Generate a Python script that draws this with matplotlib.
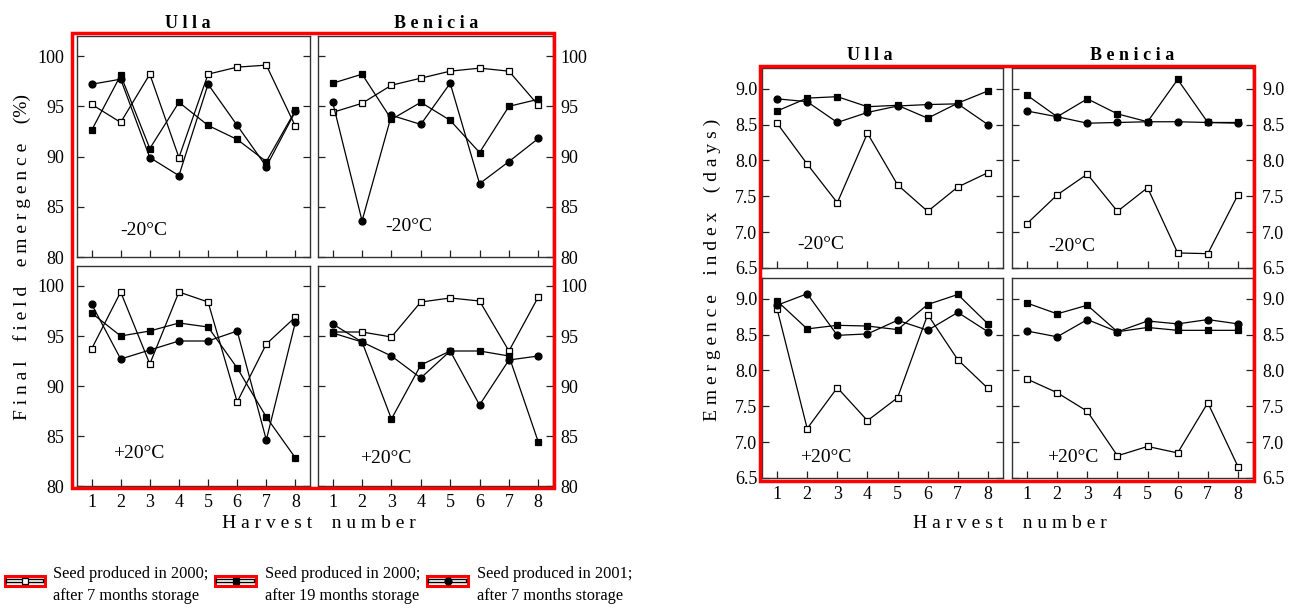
import matplotlib
matplotlib.use("Agg")
import matplotlib.pyplot as plt
from matplotlib.patches import Rectangle
from matplotlib.lines import Line2D

plt.rcParams['font.family'] = ['Liberation Serif', 'DejaVu Serif']

harvest = [1, 2, 3, 4, 5, 6, 7, 8]
series_labels = ["Seed produced in 2000;\nafter 7 months storage",
                 "Seed produced in 2000;\nafter 19 months storage",
                 "Seed produced in 2001;\nafter 7 months storage"]

# Final field emergence (%)
ffe_ulla_m20_open = [95.2, 93.4, 98.2, 89.9, 98.2, 98.9, 99.1, 93.0]
ffe_ulla_m20_fsq = [92.6, 98.1, 90.8, 95.4, 93.1, 91.7, 89.5, 94.6]
ffe_ulla_m20_circ = [97.2, 97.7, 89.9, 88.1, 97.2, 93.1, 89.0, 94.5]
ffe_ben_m20_open = [94.4, 95.3, 97.1, 97.8, 98.5, 98.8, 98.5, 95.1]
ffe_ben_m20_fsq = [97.3, 98.2, 93.7, 95.4, 93.6, 90.4, 95.0, 95.7]
ffe_ben_m20_circ = [95.4, 83.6, 94.1, 93.2, 97.3, 87.3, 89.5, 91.8]
ffe_ulla_p20_open = [93.7, 99.4, 92.2, 99.4, 98.4, 88.4, 94.2, 96.9]
ffe_ulla_p20_fsq = [97.3, 95.0, 95.5, 96.3, 95.9, 91.8, 86.9, 82.8]
ffe_ulla_p20_circ = [98.2, 92.7, 93.6, 94.5, 94.5, 95.5, 84.6, 96.4]
ffe_ben_p20_open = [95.4, 95.4, 94.9, 98.4, 98.8, 98.5, 93.5, 98.9]
ffe_ben_p20_fsq = [95.3, 94.4, 86.7, 92.1, 93.5, 93.5, 93.0, 84.4]
ffe_ben_p20_circ = [96.2, 94.4, 93.0, 90.8, 93.5, 88.1, 92.6, 93.0]

# Emergence index (days)
ei_ulla_m20_open = [8.52, 7.95, 7.41, 8.38, 7.66, 7.29, 7.63, 7.83]
ei_ulla_m20_fsq = [8.69, 8.87, 8.89, 8.75, 8.77, 8.59, 8.80, 8.97]
ei_ulla_m20_circ = [8.86, 8.82, 8.53, 8.67, 8.76, 8.78, 8.79, 8.50]
ei_ben_m20_open = [7.12, 7.52, 7.81, 7.29, 7.62, 6.71, 6.70, 7.52]
ei_ben_m20_fsq = [8.91, 8.61, 8.86, 8.65, 8.54, 9.13, 8.53, 8.53]
ei_ben_m20_circ = [8.69, 8.61, 8.52, 8.53, 8.54, 8.54, 8.53, 8.52]
ei_ulla_p20_open = [8.86, 7.19, 7.76, 7.30, 7.62, 8.78, 8.15, 7.75]
ei_ulla_p20_fsq = [8.97, 8.58, 8.63, 8.62, 8.57, 8.92, 9.06, 8.65]
ei_ulla_p20_circ = [8.91, 9.07, 8.49, 8.51, 8.70, 8.56, 8.81, 8.54]
ei_ben_p20_open = [7.88, 7.69, 7.43, 6.81, 6.94, 6.85, 7.55, 6.66]
ei_ben_p20_fsq = [8.94, 8.79, 8.91, 8.54, 8.60, 8.56, 8.56, 8.56]
ei_ben_p20_circ = [8.55, 8.47, 8.71, 8.54, 8.69, 8.65, 8.71, 8.65]

ffe_ticks = [80, 85, 90, 95, 100]
ei_ticks = [6.5, 7.0, 7.5, 8.0, 8.5, 9.0]
ei_ticklabels = ["6.5", "7.0", "7.5", "8.0", "8.5", "9.0"]

W, H = 1289, 613
fig = plt.figure(figsize=(W / 100, H / 100), dpi=100)

def px_axes(x0, y0, x1, y1):
    return fig.add_axes([x0 / W, 1 - y1 / H, (x1 - x0) / W, (y1 - y0) / H])

def px_rect(x0, y0, x1, y1, lw=2.5):
    fig.patches.append(Rectangle((x0 / W, 1 - y1 / H), (x1 - x0) / W, (y1 - y0) / H,
                                 transform=fig.transFigure, fill=False,
                                 edgecolor='#ff0000', linewidth=lw, zorder=10))

styles = [dict(marker='s', mfc='white', mec='black', ms=4.5, mew=0.9),
          dict(marker='s', mfc='black', mec='black', ms=4.5, mew=0.9),
          dict(marker='o', mfc='black', mec='black', ms=5, mew=0.9)]

FS = 13

def panel(box, data, ylim, yticks, yticklabels, side, ypad, show_x, temp, temp_pos):
    ax = px_axes(*box)
    for vals, st in zip(data, styles):
        ax.plot(harvest, vals, color='black', lw=0.9, clip_on=False, **st)
    ax.set_xlim(0.5, 8.5)
    ax.set_ylim(*ylim)
    ax.set_xticks(harvest)
    ax.set_yticks(yticks)
    ax.set_yticklabels(yticklabels)
    if show_x:
        ax.set_xticklabels([str(h) for h in harvest])
    else:
        ax.set_xticklabels([])
    ax.tick_params(axis='both', direction='in', length=5, width=0.9, color='#222222',
                   labelsize=FS)
    ax.tick_params(axis='y', left=True, right=True, pad=ypad,
                   labelleft=(side == 'left'), labelright=(side == 'right'))
    ax.tick_params(axis='x', top=False, bottom=True, pad=6)
    for sp in ax.spines.values():
        sp.set_color('#333333')
        sp.set_linewidth(1.0)
    ax.text(temp_pos[0], temp_pos[1], temp, transform=ax.transAxes,
            ha='left', va='center', fontsize=14)
    return ax

# Left group: Final field emergence
ffe_lim = (80, 102)
ffe_lbl = [str(t) for t in ffe_ticks]
panel((77, 36, 310, 257), [ffe_ulla_m20_open, ffe_ulla_m20_fsq, ffe_ulla_m20_circ],
      ffe_lim, ffe_ticks, ffe_lbl, 'left', 9, False, "-20°C", (0.185, 0.122))
panel((318, 36, 553, 257), [ffe_ben_m20_open, ffe_ben_m20_fsq, ffe_ben_m20_circ],
      ffe_lim, ffe_ticks, ffe_lbl, 'right', 5, False, "-20°C", (0.285, 0.136))
panel((77, 266, 310, 486), [ffe_ulla_p20_open, ffe_ulla_p20_fsq, ffe_ulla_p20_circ],
      ffe_lim, ffe_ticks, ffe_lbl, 'left', 9, True, "+20°C", (0.155, 0.15))
panel((318, 266, 553, 486), [ffe_ben_p20_open, ffe_ben_p20_fsq, ffe_ben_p20_circ],
      ffe_lim, ffe_ticks, ffe_lbl, 'right', 5, True, "+20°C", (0.179, 0.123))

# Right group: Emergence index
ei_lim = (6.5, 9.29)
panel((762, 68, 1003, 268), [ei_ulla_m20_open, ei_ulla_m20_fsq, ei_ulla_m20_circ],
      ei_lim, ei_ticks, ei_ticklabels, 'left', 3.5, False, "-20°C", (0.145, 0.115))
panel((1012, 68, 1253, 268), [ei_ben_m20_open, ei_ben_m20_fsq, ei_ben_m20_circ],
      ei_lim, ei_ticks, ei_ticklabels, 'right', 6.5, False, "-20°C", (0.149, 0.105))
panel((762, 278, 1003, 478), [ei_ulla_p20_open, ei_ulla_p20_fsq, ei_ulla_p20_circ],
      ei_lim, ei_ticks, ei_ticklabels, 'left', 3.5, True, "+20°C", (0.158, 0.10))
panel((1012, 278, 1253, 478), [ei_ben_p20_open, ei_ben_p20_fsq, ei_ben_p20_circ],
      ei_lim, ei_ticks, ei_ticklabels, 'right', 6.5, True, "+20°C", (0.145, 0.105))

# Red frames
px_rect(72, 33, 554, 488)
px_rect(760, 66, 1254, 481)

def ftext(x, y, s, **kw):
    fig.text(x / W, 1 - y / H, s, **kw)

# Titles
ftext(188, 23, "U l l a", ha='center', va='center', fontsize=13, fontweight='bold')
ftext(436, 23, "B e n i c i a", ha='center', va='center', fontsize=13, fontweight='bold')
ftext(870, 56, "U l l a", ha='center', va='center', fontsize=13, fontweight='bold')
ftext(1132, 56, "B e n i c i a", ha='center', va='center', fontsize=13, fontweight='bold')

# Axis labels
ftext(22, 257, "F i n a l    f i e l d    e m e r g e n c e    (%)", rotation=90,
      ha='center', va='center', fontsize=14)
ftext(712, 270, "E m e r g e n c e    i n d e x    ( d a y s )", rotation=90,
      ha='center', va='center', fontsize=14)
ftext(319, 523, "H a r v e s t    n u m b e r", ha='center', va='center', fontsize=14)
ftext(1010, 523, "H a r v e s t    n u m b e r", ha='center', va='center', fontsize=14)

# Legend
leg_x = [(5, 45, 53), (215, 256, 265), (427, 468, 477)]
for (x0, x1, tx), st, lab in zip(leg_x, styles, series_labels):
    px_rect(x0, 576, x1, 586, lw=2.2)
    y = 1 - 581 / H
    fig.lines.append(Line2D([(x0 + 3) / W, (x1 - 3) / W], [y, y], transform=fig.transFigure,
                            color='black', lw=3.2, zorder=11))
    fig.lines.append(Line2D([(x0 + 3) / W, (x1 - 3) / W], [y, y], transform=fig.transFigure,
                            color='white', lw=1.2, zorder=12))
    fig.lines.append(Line2D([(x0 + x1) / 2 / W], [y], transform=fig.transFigure,
                            color='black', lw=0, zorder=13, **st))
    ftext(tx, 585, lab, ha='left', va='center', fontsize=11.8, linespacing=1.5)

fig.savefig("out.png", dpi=100)
